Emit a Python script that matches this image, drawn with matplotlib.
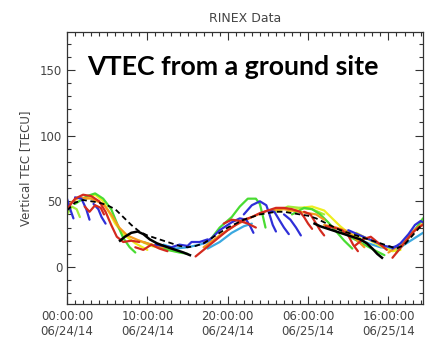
import matplotlib
matplotlib.use("Agg")
import matplotlib.pyplot as plt
from matplotlib.ticker import MultipleLocator

# ---- data (hours since 06/24/14 00:00, VTEC in TECU) ----
tick_hours = [0, 10, 20, 30, 40]
tick_labels = ["00:00:00\n06/24/14", "10:00:00\n06/24/14", "20:00:00\n06/24/14",
               "06:00:00\n06/25/14", "16:00:00\n06/25/14"]

mean_h = [0, 1, 2, 3, 4, 5, 6, 7, 8, 9, 10, 11, 12, 13, 14, 15, 16, 17, 18, 19, 20, 21, 22,
          23, 24, 25, 26, 27, 28, 29, 30, 31, 32, 33, 34, 35, 36, 37, 38, 39, 40, 41, 42, 43, 44]
mean_v = [43, 49, 51, 50, 49, 47, 44, 38, 32, 27, 24, 22, 20, 18, 16, 15, 16, 18, 22, 26, 30,
          33, 36, 38, 40, 41, 42, 42, 41, 40, 39, 37, 34, 31, 28, 26, 24, 22, 20, 18, 16, 14,
          17, 24, 31]

black1_h = [6.6, 7.2, 8.0, 8.8, 9.5, 10.3, 11.2, 12.5, 13.5, 14.5, 15.3]
black1_v = [20, 23, 26, 27, 25, 21, 18, 15, 13, 11, 9]
black2_h = [30.8, 31.5, 32.5, 33.5, 34.5, 35.5, 36.5, 37.3, 38.0, 38.6, 39.2]
black2_v = [33, 31, 29, 27, 25, 23, 21, 18, 14, 10, 7]

red1_h = [0, 1, 2, 3, 4, 4.8, 5.5, 6.2, 7.0, 8.0, 9.0]
red1_v = [44, 52, 55, 54, 50, 42, 32, 23, 19, 20, 19]
orange1_h = [0, 1.5, 3, 4.5, 5.5, 6.5, 7.5, 9, 10.5, 12]
orange1_v = [47, 53, 52, 48, 40, 30, 24, 20, 17, 15]
green1_h = [1, 2.5, 3.5, 4.5, 5.5, 6.3, 7.0, 7.8, 8.5]
green1_v = [48, 54, 56, 52, 44, 32, 22, 15, 11]
yellow1_h = [2.5, 3.5, 4.5, 5.2, 6.0, 7.0, 8.5, 10.0]
yellow1_v = [52, 55, 50, 42, 33, 25, 18, 13]
blue1_h = [0, 0.4, 0.8]
blue1_v = [52, 44, 37]
blue2_h = [1.0, 1.8, 2.4, 2.8]
blue2_v = [53, 52, 44, 36]
blue3_h = [3.3, 3.9, 4.3, 4.8]
blue3_v = [48, 44, 38, 33]
lgreen1_h = [0, 0.6, 1.2, 1.6]
lgreen1_v = [40, 46, 44, 38]
red2_h = [2.2, 2.8, 3.5, 4.2, 4.6]
red2_v = [46, 42, 47, 45, 40]

blue4_h = [11, 12, 13, 14, 15, 15.5, 16.5, 17.5]
blue4_v = [17, 16, 15, 17, 16, 19, 19, 21]
cyan1_h = [12, 13.5, 15, 16.5, 18]
cyan1_v = [17, 14, 15, 17, 20]
green2_h = [9.5, 11, 12.5, 14, 15]
green2_v = [19, 16, 13, 11, 10]
yellow2_h = [9, 10.5, 12, 13.5]
yellow2_v = [20, 16, 14, 12]
red3_h = [8.5, 9.5, 10.5, 11.5, 12.5]
red3_v = [15, 13, 17, 14, 12]

red4_h = [16, 17, 18, 19, 20, 21, 22, 23, 24, 25, 26, 27, 28, 29, 29.5, 30, 30.5]
red4_v = [8, 13, 18, 23, 28, 32, 36, 38, 41, 43, 45, 45, 44, 42, 38, 33, 29]
blue5_h = [17, 18, 19, 20.5, 21.5, 22.3, 22.8, 23.2]
blue5_v = [18, 22, 28, 34, 37, 36, 31, 26]
green3_h = [18, 19, 20.5, 21.5, 22.5, 23.5, 24.0, 24.4, 24.7]
green3_v = [22, 30, 38, 46, 52, 52, 48, 38, 30]
blue6_h = [22, 23, 24, 24.8, 25.2, 25.6, 26.0]
blue6_v = [40, 47, 50, 47, 40, 32, 27]
blue7_h = [25.0, 25.8, 26.4, 27.0, 27.6]
blue7_v = [43, 42, 36, 30, 25]
blue8_h = [27.0, 27.8, 28.5, 29.1]
blue8_v = [40, 36, 30, 24]
orange2_h = [17, 19, 21, 23, 25, 27, 29, 31, 32]
orange2_v = [15, 24, 32, 38, 43, 44, 42, 40, 36]
cyan2_h = [17.5, 19, 20.5, 22, 23]
cyan2_v = [14, 19, 26, 31, 33]
red5_h = [19.5, 20.5, 21.5, 22.5, 23.5]
red5_v = [33, 36, 35, 33, 30]

yellow3_h = [27.5, 29, 30.5, 32, 33, 34, 35, 36.5]
yellow3_v = [42, 45, 46, 43, 37, 31, 26, 22]
green4_h = [28, 29.5, 30.5, 31.5, 32.5, 33.5, 34.5, 35.5]
green4_v = [40, 45, 44, 40, 34, 27, 20, 14]
lgreen2_h = [26, 27.5, 29, 30.5, 32]
lgreen2_v = [42, 46, 45, 44, 40]
red6_h = [29.5, 30.3, 31.0, 31.5, 32.0]
red6_v = [42, 40, 33, 28, 24]
red7_h = [32.2, 33.2, 34.2, 35.0, 35.6, 36.2]
red7_v = [31, 30, 28, 24, 17, 12]
orange3_h = [32, 33.5, 35, 36, 37]
orange3_v = [32, 30, 27, 21, 15]

blue9_h = [35, 36.5, 38, 39.5, 40.5, 41.2]
blue9_v = [28, 24, 20, 16, 15, 16]
cyan3_h = [34.5, 36, 37.5, 39, 40.5]
cyan3_v = [26, 22, 18, 15, 14]
green5_h = [34, 35.5, 37, 38.5, 39.5]
green5_v = [28, 22, 17, 12, 9]
red8_h = [35.8, 36.8, 37.8, 38.8, 39.8]
red8_v = [16, 21, 23, 18, 13]
yellow4_h = [36, 37.5, 39, 40.5, 41.5]
yellow4_v = [26, 21, 16, 12, 13]

red9_h = [40.5, 41.3, 42.2, 43.0, 43.7, 44.3]
red9_v = [7, 13, 20, 26, 30, 32]
blue10_h = [40.5, 41.5, 42.5, 43.3, 44.0, 44.3]
blue10_v = [14, 18, 25, 32, 35, 34]
orange4_h = [40, 41.5, 43, 44.3]
orange4_v = [11, 17, 27, 33]
green6_h = [41, 42.5, 43.5, 44.3]
green6_v = [11, 22, 30, 37]
cyan4_h = [41, 42.5, 44.3]
cyan4_v = [13, 19, 26]

BLUE = "#2f2fd8"
GREEN = "#49dc32"
LGREEN = "#a3ec3a"
YELLOW = "#eeee20"
ORANGE = "#f49a1e"
RED = "#d42a1e"
CYAN = "#3aa8e0"

arcs = [
    (cyan1_h, cyan1_v, CYAN), (cyan2_h, cyan2_v, CYAN), (cyan3_h, cyan3_v, CYAN), (cyan4_h, cyan4_v, CYAN),
    (yellow1_h, yellow1_v, YELLOW), (yellow2_h, yellow2_v, YELLOW), (yellow3_h, yellow3_v, YELLOW),
    (yellow4_h, yellow4_v, YELLOW),
    (lgreen1_h, lgreen1_v, LGREEN), (lgreen2_h, lgreen2_v, LGREEN),
    (green1_h, green1_v, GREEN), (green2_h, green2_v, GREEN), (green3_h, green3_v, GREEN),
    (green4_h, green4_v, GREEN), (green5_h, green5_v, GREEN), (green6_h, green6_v, GREEN),
    (orange1_h, orange1_v, ORANGE), (orange2_h, orange2_v, ORANGE), (orange3_h, orange3_v, ORANGE),
    (orange4_h, orange4_v, ORANGE),
    (blue1_h, blue1_v, BLUE), (blue2_h, blue2_v, BLUE), (blue3_h, blue3_v, BLUE), (blue4_h, blue4_v, BLUE),
    (blue5_h, blue5_v, BLUE), (blue6_h, blue6_v, BLUE), (blue7_h, blue7_v, BLUE), (blue8_h, blue8_v, BLUE),
    (blue9_h, blue9_v, BLUE), (blue10_h, blue10_v, BLUE),
    (red1_h, red1_v, RED), (red2_h, red2_v, RED), (red3_h, red3_v, RED), (red4_h, red4_v, RED),
    (red5_h, red5_v, RED), (red6_h, red6_v, RED), (red7_h, red7_v, RED), (red8_h, red8_v, RED),
    (red9_h, red9_v, RED),
]

fig = plt.figure(figsize=(4.32, 3.41), dpi=100)
ax = fig.add_axes([67 / 432, 1 - 304 / 341, (423 - 67) / 432, (304 - 32) / 341])

for h, v, c in arcs:
    ax.plot(h, v, color=c, lw=1.6, solid_capstyle="round", solid_joinstyle="round")
ax.plot(black1_h, black1_v, color="black", lw=1.8, solid_joinstyle="round")
ax.plot(black2_h, black2_v, color="black", lw=1.8, solid_joinstyle="round")
ax.plot(mean_h, mean_v, color="black", lw=1.3, ls=(0, (3, 2)))

ax.set_xlim(0, 44.3)
ax.set_ylim(-28.2, 178.9)
ax.set_xticks(tick_hours)
ax.set_xticklabels(tick_labels)
ax.xaxis.set_minor_locator(MultipleLocator(1))
ax.set_yticks([0, 50, 100, 150])
ax.yaxis.set_minor_locator(MultipleLocator(10))
ax.tick_params(which="both", direction="in", top=True, right=True, colors="#333333",
               labelcolor="#444444", labelsize=8.5, width=0.8)
ax.tick_params(which="major", length=6)
ax.tick_params(which="minor", length=3)
ax.tick_params(axis="x", pad=4)
for s in ax.spines.values():
    s.set_color("#333333")
    s.set_linewidth(0.9)

ax.set_ylabel("Vertical TEC [TECU]", fontsize=8.5, color="#444444", labelpad=6)
ax.set_title("RINEX Data", fontsize=9, color="#444444", pad=7)

ax.text((87 - 67) / 356, (304 - 75) / 272, "VTEC from a ground site", transform=ax.transAxes,
        fontsize=19.3, fontweight="bold", family="Lato", color="black", va="baseline", ha="left")

fig.savefig("out.png", dpi=100)
